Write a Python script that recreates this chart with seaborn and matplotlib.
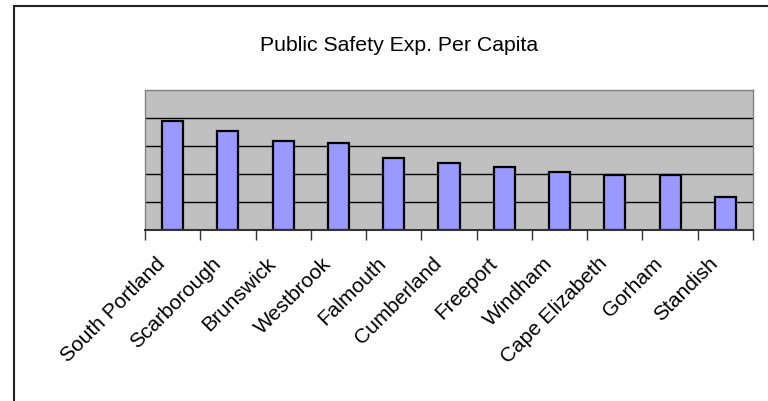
import numpy as np
import matplotlib
matplotlib.use("Agg")
import matplotlib.pyplot as plt
from matplotlib.patches import Rectangle
from matplotlib.transforms import ScaledTranslation
import seaborn as sns

towns = ["South Portland", "Scarborough", "Brunswick", "Westbrook", "Falmouth",
         "Cumberland", "Freeport", "Windham", "Cape Elizabeth", "Gorham", "Standish"]
exp_per_capita = [390, 355, 318, 310, 258, 240, 224, 208, 195, 195, 119]
grid_values = [100, 200, 300, 400]
title = "Public Safety Exp. Per Capita"

sns.set_style("white")
plt.rcParams["font.family"] = ["Liberation Sans", "DejaVu Sans"]

fig = plt.figure(figsize=(7.68, 4.01), dpi=100)
ax = fig.add_axes([145 / 768, (401 - 230) / 401, (753 - 145) / 768, 140 / 401])
ax.set_facecolor("#C0C0C0")

sns.barplot(x=towns, y=exp_per_capita, color="#9999FF", saturation=1,
            width=0.38, edgecolor="black", linewidth=1.6, ax=ax)

ax.set_xlim(-0.5, len(towns) - 0.5)
ax.set_ylim(0, 500)
ax.set_yticks(grid_values)
ax.set_yticklabels([])
ax.tick_params(axis="y", length=0)
ax.set_axisbelow(True)
ax.yaxis.grid(True, color="black", linewidth=1)
ax.xaxis.grid(False)

# tick marks between categories, labels drawn separately
ax.set_xticks(np.arange(-0.5, len(towns), 1))
ax.set_xticklabels([])
ax.tick_params(axis="x", direction="out", length=7, width=1, color="#333333", bottom=True)
ax.set_xlabel("")
ax.set_ylabel("")

for side in ["left", "top", "right"]:
    ax.spines[side].set_color("#808080")
    ax.spines[side].set_linewidth(1)
    ax.spines[side].set_visible(True)
ax.spines["bottom"].set_color("#333333")
ax.spines["bottom"].set_linewidth(1.5)

offset = ScaledTranslation(-17 / 100, -24 / 100, fig.dpi_scale_trans)
for i, name in enumerate(towns):
    ax.text(i, 0, name, transform=ax.get_xaxis_transform() + offset,
            rotation=45, rotation_mode="anchor", ha="right", va="top",
            fontsize=15, color="black")

fig.text(399 / 768, 1 - 51 / 401, title, ha="center", va="baseline",
         fontsize=15.3, color="black")

# chart-area border (right and bottom edges fall outside the image)
fig.patches.append(Rectangle((14 / 768, -0.2), 1.2, 0.2 + (401 - 6) / 401,
                             transform=fig.transFigure, fill=False,
                             edgecolor="#222222", linewidth=1.5))

fig.savefig("out.png", dpi=100)
